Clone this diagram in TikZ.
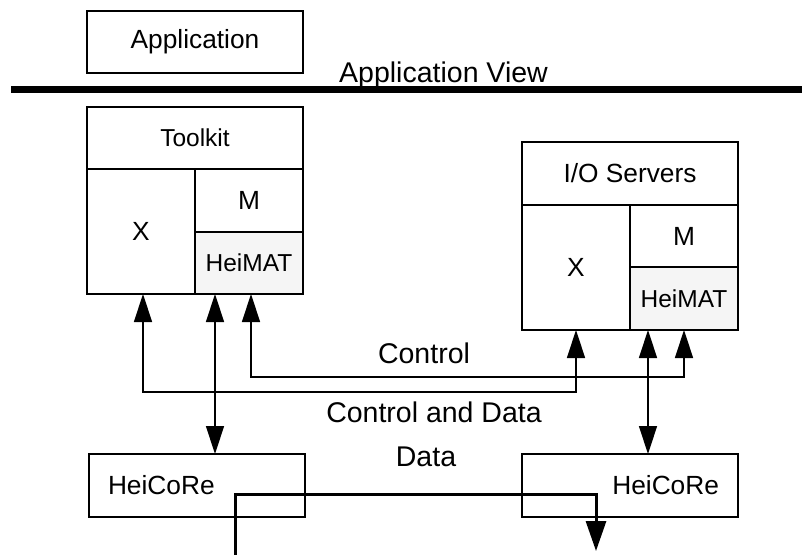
\documentclass[tikz,border=0pt]{standalone}
\usepackage{fontspec}
\setmainfont{Liberation Sans}
\usetikzlibrary{arrows.meta,calc}
\definecolor{matgray}{HTML}{F5F5F5}
\tikzset{
  x=1pt, y=-1pt,
  box/.style={draw=black, line width=1.3pt, inner sep=0pt, outer sep=0pt, align=center},
  szA/.style={font=\fontsize{24.5}{28}\selectfont},
  szB/.style={font=\fontsize{26.3}{30}\selectfont},
  szC/.style={font=\fontsize{28.5}{32}\selectfont},
  conn/.style={line width=1.4pt, {Triangle[length=28pt,width=18pt]}-{Triangle[length=28pt,width=18pt]}},
  dataline/.style={line width=3pt, -{Triangle[length=30pt,width=20pt]}},
}
\begin{document}
\begin{tikzpicture}
\useasboundingbox (0,0) rectangle (802,554);
% top
\node[box, szB, minimum width=216, minimum height=62] (app) at (195,42) {Application};
\node[szC, anchor=west, inner sep=0pt] (view) at (339,75) {Application View};
\coordinate (barL) at (11,89.5);
\coordinate (barR) at (802,89.5);
\draw[line width=7pt] (barL) -- (barR);
% Toolkit
\node[box, szA, minimum width=216, minimum height=62] (tk) at (195,138) {Toolkit};
\node[box, szB, minimum width=108, minimum height=125] (tkX) at (141,231.5) {X};
\node[box, szB, minimum width=108, minimum height=63] (tkM) at (249,200.5) {M};
\node[box, szA, fill=matgray, minimum width=108, minimum height=62] (tkH) at (249,263) {HeiMAT};
% I/O Servers
\node[box, szB, minimum width=216, minimum height=63] (io) at (630,173.5) {I/O Servers};
\node[box, szB, minimum width=108, minimum height=125] (ioX) at (576,267.5) {X};
\node[box, szB, minimum width=108, minimum height=62] (ioM) at (684,236) {M};
\node[box, szA, fill=matgray, minimum width=108, minimum height=63] (ioH) at (684,298.5) {HeiMAT};
% HeiCoRe
\node[box, szB, minimum width=216, minimum height=63, text width=178, align=left, inner xsep=19pt] (hcL) at (197,485.5) {HeiCoRe};
\node[box, szB, minimum width=216, minimum height=63, text width=178, align=right, inner xsep=19pt] (hcR) at (630,485.5) {HeiCoRe};
% labels
\node[szC] (lctl) at (424,353) {Control};
\node[szC] (lcd) at (434,412) {Control and Data};
\node[szC] (ldata) at (426,457) {Data};
% connectors
\draw[conn] ([xshift=2]tkX.south) -- ++(0,98) -| (ioX.south);
\draw[conn] ([xshift=2]tkH.south) -- ++(0,83) -| (ioH.south);
\draw[conn] ([xshift=-34]tkH.south) -- ([xshift=-34]tkH.south |- hcL.north);
\draw[conn] ([xshift=-36]ioH.south) -- ([xshift=-36]ioH.south |- hcR.north);
% data path
\coordinate (d0) at (235,556);
\coordinate (dc) at (596,494);
\coordinate (d1) at (596,551);
\draw[dataline] (d0) |- (dc) -- (d1);
\end{tikzpicture}
\end{document}
